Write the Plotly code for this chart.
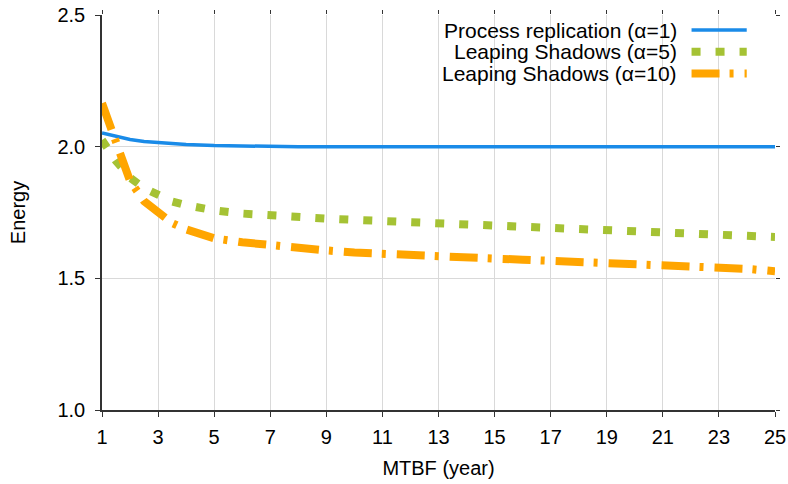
import plotly.graph_objects as go

# MTBF sample points (years)
mtbf = [1, 1.25, 1.5, 1.75, 2, 2.5, 3, 3.5, 4, 5, 6, 7, 8, 9, 10, 11, 12, 13,
        14, 15, 16, 17, 18, 19, 20, 21, 22, 23, 24, 25]

# Normalized energy for each scheme
energy_replication = [2.052, 2.045, 2.038, 2.032, 2.027, 2.020, 2.015, 2.011, 2.008,
                      2.004, 2.002, 2.001, 2.000, 2.000, 2.000, 2.000, 2.000, 2.000,
                      2.000, 2.000, 2.000, 2.000, 2.000, 2.000, 2.000, 2.000, 2.000,
                      2.000, 2.000, 2.000]
energy_ls_a5 = [2.025, 1.980, 1.945, 1.915, 1.882, 1.843, 1.815, 1.792, 1.778, 1.758,
                1.746, 1.738, 1.733, 1.727, 1.722, 1.718, 1.714, 1.710, 1.704, 1.699,
                1.694, 1.690, 1.686, 1.682, 1.677, 1.673, 1.668, 1.665, 1.661, 1.657]
energy_ls_a10 = [2.165, 2.090, 2.000, 1.925, 1.870, 1.793, 1.748, 1.710, 1.686, 1.652,
                 1.637, 1.625, 1.615, 1.606, 1.598, 1.592, 1.588, 1.584, 1.579, 1.575,
                 1.571, 1.567, 1.563, 1.558, 1.554, 1.550, 1.546, 1.540, 1.536, 1.527]

x_ticks = [1, 3, 5, 7, 9, 11, 13, 15, 17, 19, 21, 23, 25]
y_ticks = [1.0, 1.5, 2.0, 2.5]
y_tick_text = ["1.0", "1.5", "2.0", "2.5"]

series_names = ["Process replication (\u03b1=1)",
                "Leaping Shadows (\u03b1=5)",
                "Leaping Shadows (\u03b1=10)"]
series_values = [energy_replication, energy_ls_a5, energy_ls_a10]
colors = ["#1a8be8", "#a5c234", "#ffa500"]
widths = [3.5, 8, 8]
dashes = ["solid", "9px,15px", "28px,10px,4px,11px"]

FONT = "Liberation Sans, Arial, sans-serif"

fig = go.Figure()
for name, vals, c, w, d in zip(series_names, series_values, colors, widths, dashes):
    fig.add_trace(go.Scatter(x=mtbf, y=vals, mode="lines", name=name,
                             line=dict(color=c, width=w, dash=d),
                             showlegend=False))

# Empty trace so the mirrored top/right tick axes are drawn
fig.add_trace(go.Scatter(x=[], y=[], xaxis="x2", yaxis="y2", showlegend=False,
                         hoverinfo="skip"))

# Legend drawn as right-aligned text with a line sample to its right
legend_y = [0.962, 0.907, 0.852]
for name, c, w, d, ly in zip(series_names, colors, widths, dashes, legend_y):
    fig.add_annotation(x=0.855, y=ly, xref="paper", yref="paper",
                       text=name, showarrow=False, xanchor="right", yanchor="middle",
                       xshift=2, font=dict(family=FONT, size=21, color="#000"))
    fig.add_shape(type="line", xref="paper", yref="paper",
                  x0=0.876, x1=0.958, y0=ly, y1=ly,
                  line=dict(color=c, width=w, dash=d))

fig.update_layout(
    width=788, height=484,
    margin=dict(l=102, r=13, t=15, b=74, autoexpand=False),
    plot_bgcolor="white", paper_bgcolor="white",
    font=dict(family=FONT, size=20, color="#000"),
    xaxis=dict(
        range=[1, 25], tickvals=x_ticks, ticktext=[str(v) for v in x_ticks],
        showgrid=True, gridcolor="#d9d9d9", gridwidth=1,
        showline=True, linecolor="#333", linewidth=1.5,
        ticks="outside", ticklen=5, tickcolor="#333", ticklabelstandoff=3,
        zeroline=False, automargin=False,
        title=dict(text="MTBF (year)", font=dict(size=20), standoff=14),
    ),
    yaxis=dict(
        range=[1.0, 2.5], tickvals=y_ticks, ticktext=y_tick_text,
        showgrid=True, gridcolor="#d9d9d9", gridwidth=1,
        showline=True, linecolor="#333", linewidth=1.5,
        ticks="outside", ticklen=5, tickcolor="#333", ticklabelstandoff=6,
        zeroline=False, automargin=False,
        title=dict(text="Energy", font=dict(size=20), standoff=26),
    ),
    xaxis2=dict(overlaying="x", side="top", range=[1, 25], tickvals=x_ticks,
                showticklabels=False, showgrid=False, showline=False, zeroline=False,
                ticks="outside", ticklen=4, tickcolor="#333", automargin=False),
    yaxis2=dict(overlaying="y", side="right", range=[1.0, 2.5], tickvals=y_ticks,
                showticklabels=False, showgrid=False, showline=False, zeroline=False,
                ticks="outside", ticklen=4, tickcolor="#333", automargin=False),
)

fig.write_html("out.html")
